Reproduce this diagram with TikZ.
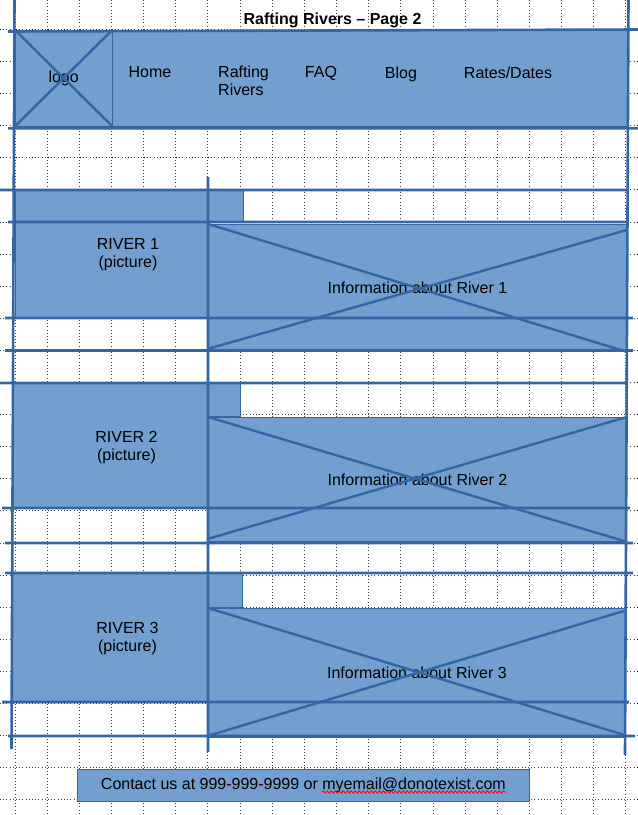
\documentclass[tikz,border=0pt]{standalone}
\usepackage{fontspec}
\setmainfont{Liberation Sans}
\usetikzlibrary{decorations.pathmorphing}
\definecolor{wffill}{HTML}{729FCF}
\definecolor{wfline}{HTML}{3465A4}

\begin{document}
\begin{tikzpicture}[x=1pt,y=-1pt,
    box/.style={draw=wfline,line width=0.8pt,fill=wffill,inner sep=0pt,anchor=north west,font=\fontsize{16}{18}\selectfont},
    guide/.style={draw=wfline,line width=2.6pt},
    cross/.style={draw=wfline,line width=2.4pt},
    gridline/.style={draw=black!75,line width=0.7pt,dash pattern=on 0.9pt off 2.3pt},
    txt/.style={font=\fontsize{16}{18}\selectfont,inner sep=0pt,align=center}]
    \useasboundingbox (0,0) rectangle (638,815);
    % dotted page grid
    \foreach \gx in {0,...,19}
      \draw[gridline] ({14.9+32.15*\gx},0) -- ({14.9+32.15*\gx},815);
    \foreach \gy in {0,...,24}
      \draw[gridline] (0,{29.3+32.1*\gy}) -- (638,{29.3+32.1*\gy});

    \node[txt,font=\fontsize{16}{18}\selectfont\bfseries,anchor=base] (title) at (332.5,24) {Rafting Rivers – Page 2};

    % header bar
    \node[box,minimum width=613pt,minimum height=95.5pt] (header) at (15,30) {};
    \node[box,minimum width=96.5pt,minimum height=95.5pt] (logo) at (15,30) {logo};
    \node[txt,anchor=base] (home) at (150,77.5) {Home};
    \node[txt,align=left,anchor=north west] (rafting) at (218,65.8) {Rafting\\Rivers};
    \node[txt,anchor=base] (faq) at (321,77.5) {FAQ};
    \node[txt,anchor=base] (blog) at (401,78) {Blog};
    \node[txt,anchor=base] (rates) at (508,78) {Rates/Dates};
    \draw[cross]
      (logo.north west) -- (logo.south east)
      (logo.north east) -- (logo.south west);

    % river 1
    \node[box,minimum width=193pt,minimum height=128pt] (pic1) at (15,190) {};
    \node[box,minimum width=35pt,minimum height=32pt] (tab1) at (208,190) {};
    \node[box,minimum width=418pt,minimum height=127pt] (info1) at (208,224) {Information about River 1};
    \node[txt] (cap1) at (128,255) {RIVER 1\\(picture)};
    \draw[cross]
      (info1.north west) -- (info1.south east)
      ([yshift=3pt]info1.south west) -- ([yshift=-6pt]info1.north east);

    % river 2
    \node[box,minimum width=195pt,minimum height=125pt] (pic2) at (13,383) {};
    \node[box,minimum width=32pt,minimum height=33pt] (tab2) at (208,383) {};
    \node[box,minimum width=418pt,minimum height=124pt] (info2) at (208,417) {Information about River 2};
    \node[txt] (cap2) at (126.5,447.5) {RIVER 2\\(picture)};
    \draw[cross]
      (info2.north west) -- (info2.south east)
      ([yshift=3pt]info2.south west) -- (info2.north east);

    % river 3
    \node[box,minimum width=196pt,minimum height=129pt] (pic3) at (12,573) {};
    \node[box,minimum width=34pt,minimum height=34pt] (tab3) at (208,573) {};
    \node[box,minimum width=417pt,minimum height=129pt] (info3) at (208,608) {Information about River 3};
    \node[txt] (cap3) at (127.5,638.5) {RIVER 3\\(picture)};
    \draw[cross]
      (info3.north west) -- ([xshift=-2pt,yshift=3pt]info3.south east)
      ([yshift=2pt]info3.south west) -- ([xshift=-2pt,yshift=-3pt]info3.north east);

    % layout guides
    \draw[guide]
      (8,31.5) -- (638,29.5)
      (8,128.3) -- (638,128.3)
      (14.5,0) -- (11.5,749)
      (628.5,0) -- (625,755)
      (208,177) -- (208,752)
      (0,190) -- (627,190)
      (8,222) -- (627,222)
      (5,318) -- (633,318)
      (5,350.5) -- (633,350.5)
      (0,383) -- (628,383)
      (2,508) -- (630,508)
      (5,543) -- (633,543)
      (5,573) -- (633,573)
      (2,702) -- (629,702)
      (8,736) -- (635,736);

    % footer
    \node[box,minimum width=452pt,minimum height=32pt] (footer) at (77,769) {Contact us at 999-999-9999 or myemail@donotexist.com};
    \draw[red,line width=0.8pt,decorate,decoration={snake,amplitude=1.2pt,segment length=4pt}]
      (322,792) -- (506,792);
  \end{tikzpicture}
\end{document}
